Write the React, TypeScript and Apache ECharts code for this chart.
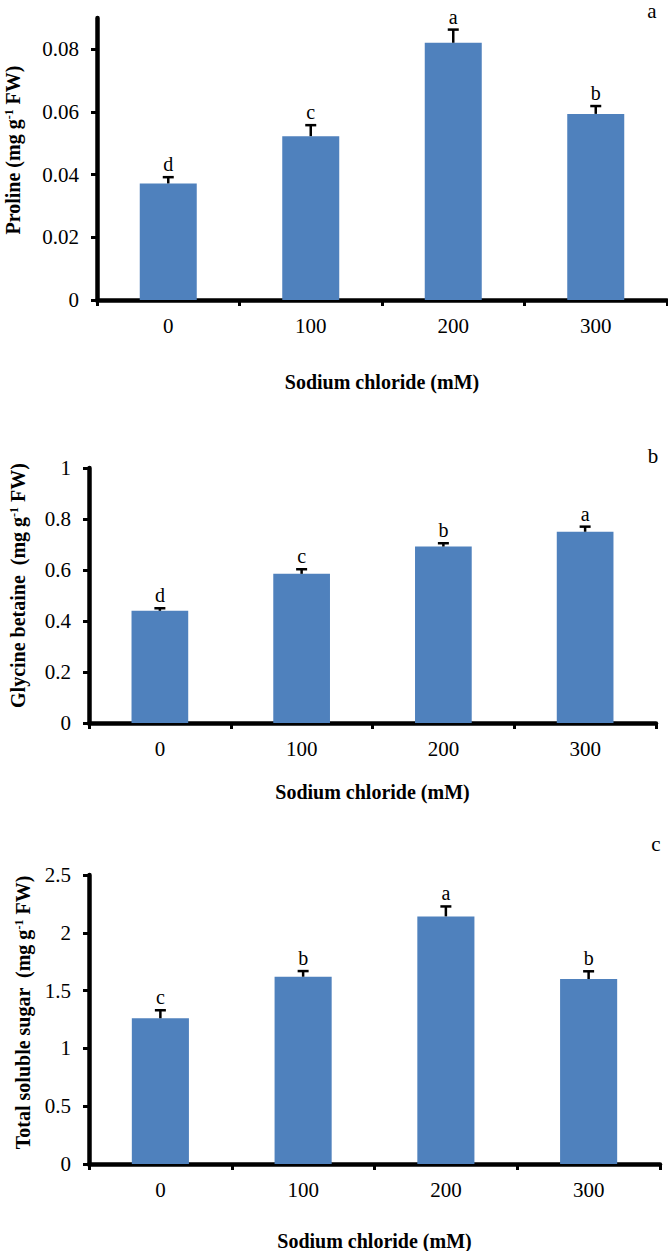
import React, { useEffect, useRef } from "react";
import * as echarts from "echarts";

const categories = ["0", "100", "200", "300"];

const prolineValues = [0.0372, 0.0523, 0.0821, 0.0594];
const prolineErrors = [0.002, 0.0035, 0.0042, 0.0025];
const prolineLetters = ["d", "c", "a", "b"];
const prolineTicks = [0, 0.02, 0.04, 0.06, 0.08];

const glycineValues = [0.44, 0.585, 0.692, 0.75];
const glycineErrors = [0.01, 0.018, 0.013, 0.02];
const glycineLetters = ["d", "c", "b", "a"];
const glycineTicks = [0, 0.2, 0.4, 0.6, 0.8, 1];

const sugarValues = [1.261, 1.62, 2.142, 1.6];
const sugarErrors = [0.069, 0.049, 0.086, 0.067];
const sugarLetters = ["c", "b", "a", "b"];
const sugarTicks = [0, 0.5, 1, 1.5, 2, 2.5];

const FONT = "'Liberation Serif', 'Times New Roman', serif";
const BAR_COLOR = "#4F81BD";

const panels = [
  {
    grid: { left: 97, top: 18, width: 570, height: 282 },
    max: 0.09,
    ticks: prolineTicks,
    values: prolineValues,
    errors: prolineErrors,
    letters: prolineLetters,
    yName: "Proline (mg g{sup|-1} FW)",
    yGap: 74,
    yShift: 18,
    xGap: 72,
    tag: "a",
    tagPos: [652, 0],
    tagAlign: "top",
  },
  {
    grid: { left: 89, top: 468, width: 567, height: 255 },
    max: 1,
    ticks: glycineTicks,
    values: glycineValues,
    errors: glycineErrors,
    letters: glycineLetters,
    yName: "Glycine betaine  (mg g{sup|-1} FW)",
    yGap: 61,
    yShift: 20,
    xGap: 59,
    tag: "b",
    tagPos: [653, 466],
    tagAlign: "bottom",
  },
  {
    grid: { left: 89, top: 875, width: 571, height: 289 },
    max: 2.5,
    ticks: sugarTicks,
    values: sugarValues,
    errors: sugarErrors,
    letters: sugarLetters,
    yName: "Total soluble sugar  (mg g{sup|-1} FW)",
    yGap: 56,
    yShift: 14,
    xGap: 67,
    tag: "c",
    tagPos: [656, 854],
    tagAlign: "bottom",
  },
];

function buildOption() {
  const grids: any[] = [];
  const xAxes: any[] = [];
  const yAxes: any[] = [];
  const series: any[] = [];
  const graphics: any[] = [];

  panels.forEach((p, idx) => {
    grids.push({ ...p.grid, outerBoundsMode: "none", containLabel: false });
    xAxes.push({
      type: "category",
      gridIndex: idx,
      data: categories,
      boundaryGap: true,
      name: "Sodium chloride (mM)",
      nameLocation: "middle",
      nameGap: p.xGap,
      nameTextStyle: { fontFamily: FONT, fontSize: 20, fontWeight: "bold", color: "#000" },
      axisLine: { lineStyle: { color: "#000", width: 4.5 } },
      axisTick: { show: true, alignWithLabel: false, length: 6, lineStyle: { color: "#000", width: 3 } },
      axisLabel: { fontFamily: FONT, fontSize: 21, color: "#000", margin: 15 },
      splitLine: { show: false },
    });
    yAxes.push({
      type: "value",
      gridIndex: idx,
      min: 0,
      max: p.max,
      name: p.yName,
      nameLocation: "middle",
      nameGap: p.yGap,
      nameRotate: 90,
      nameTextStyle: {
        fontFamily: FONT,
        fontSize: 20,
        fontWeight: "bold",
        color: "#000",
        padding: [0, 0, 0, p.yShift],
        rich: {
          sup: { fontFamily: FONT, fontSize: 12, fontWeight: "bold", color: "#000", verticalAlign: "top" },
        },
      },
      axisLine: { show: true, lineStyle: { color: "#000", width: 4.5 } },
      axisTick: { show: true, length: 6, customValues: p.ticks, lineStyle: { color: "#000", width: 3 } },
      axisLabel: { fontFamily: FONT, fontSize: 21, color: "#000", margin: 18, customValues: p.ticks },
      splitLine: { show: false },
    });
    series.push({
      type: "bar",
      xAxisIndex: idx,
      yAxisIndex: idx,
      data: p.values,
      barWidth: "40%",
      itemStyle: { color: BAR_COLOR },
      z: 2,
    });
    const letters = p.letters;
    series.push({
      type: "custom",
      xAxisIndex: idx,
      yAxisIndex: idx,
      z: 3,
      data: p.values.map((v, i) => [i, v, p.errors[i]]),
      renderItem: (params: any, api: any) => {
        const i = api.value(0);
        const v = api.value(1);
        const e = api.value(2);
        const p0 = api.coord([i, v]);
        const p1 = api.coord([i, v + e]);
        const stroke = { stroke: "#000", lineWidth: 2.5 };
        return {
          type: "group",
          children: [
            { type: "line", shape: { x1: p0[0], y1: p0[1], x2: p1[0], y2: p1[1] }, style: stroke },
            { type: "line", shape: { x1: p1[0] - 5.5, y1: p1[1], x2: p1[0] + 5.5, y2: p1[1] }, style: stroke },
            {
              type: "text",
              x: p1[0],
              y: p1[1] - 3,
              style: {
                text: letters[params.dataIndex],
                fontFamily: FONT,
                fontSize: 20,
                fill: "#000",
                align: "center",
                verticalAlign: "bottom",
              },
            },
          ],
        };
      },
    });
    graphics.push({
      type: "text",
      x: p.tagPos[0],
      y: p.tagPos[1],
      style: {
        text: p.tag,
        fontFamily: FONT,
        fontSize: 21,
        fill: "#000",
        align: "center",
        verticalAlign: p.tagAlign,
      },
    });
  });

  return {
    animation: false,
    backgroundColor: "#fff",
    grid: grids,
    xAxis: xAxes,
    yAxis: yAxes,
    series,
    graphic: graphics,
  };
}

export default function App() {
  const ref = useRef<HTMLDivElement>(null);
  useEffect(() => {
    if (!ref.current) return;
    const chart = echarts.init(ref.current, undefined, { renderer: "svg" });
    chart.setOption(buildOption() as any);
    return () => chart.dispose();
  }, []);
  return (
    <div
      ref={ref}
      style={{ position: "absolute", left: 0, top: 0, width: 668, height: 1251, background: "#fff" }}
    />
  );
}
